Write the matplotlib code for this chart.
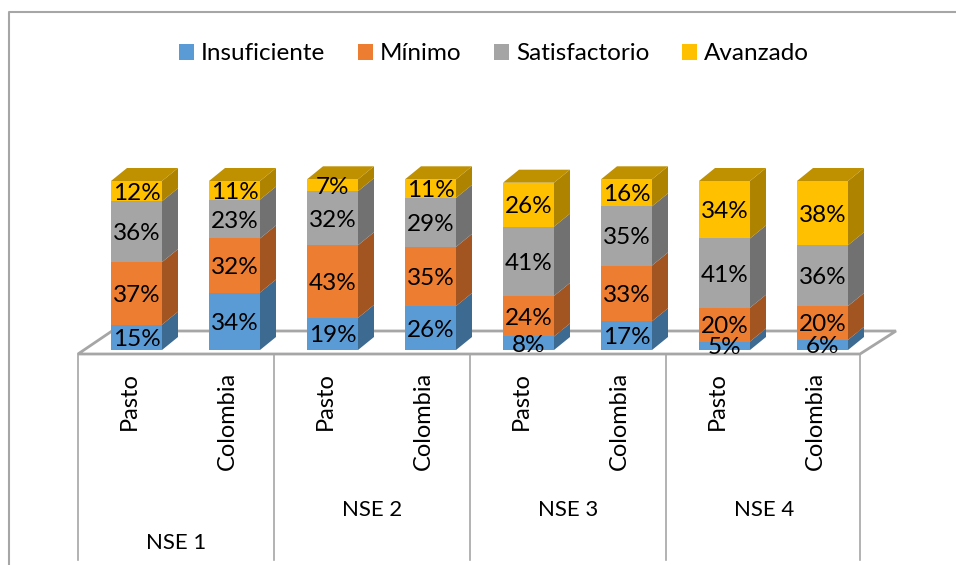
import numpy as np
import matplotlib
matplotlib.use("Agg")
import matplotlib.pyplot as plt
from matplotlib.patches import Patch, Polygon

plt.rcParams["font.family"] = ["Lato", "DejaVu Sans"]

groups = ["NSE 1", "NSE 2", "NSE 3", "NSE 4"]
places = ["Pasto", "Colombia"] * 4
series_names = ["Insuficiente", "Mínimo", "Satisfactorio", "Avanzado"]

insuficiente = [15, 34, 19, 26, 8, 17, 5, 6]
minimo = [37, 32, 43, 35, 24, 33, 20, 20]
satisfactorio = [36, 23, 32, 29, 41, 35, 41, 36]
avanzado = [12, 11, 7, 11, 26, 16, 34, 38]

front_colors = ["#5B9BD5", "#ED7D31", "#A5A5A5", "#FFC000"]
side_colors = ["#3C6A91", "#A25521", "#717171", "#AE8300"]
top_color = "#BF9000"
axis_color = "#A6A6A6"

# pixel scale of the picture: one category is 98 px, one percent 1.69 px
WIDTH, HEIGHT = 956, 565
X_SCALE = 98.0
Y_SCALE = 1.69
X0_PX, Y0_PX = 136.5, 350.0
BAR_WIDTH = 51 / X_SCALE
DEPTH_X = 16 / X_SCALE
DEPTH_Y = 13 / Y_SCALE


def px(x_px, y_px):
    return (x_px - X0_PX) / X_SCALE, (Y0_PX - y_px) / Y_SCALE


def draw_floor(axes):
    corners = [px(78, 354), px(860, 354), px(896, 331), px(112, 331)]
    axes.add_patch(Polygon(corners, closed=True, facecolor="white", edgecolor=axis_color, linewidth=2.0, zorder=1))


def draw_stack(axes, x, values, floor_bottom=0.0):
    bottom = floor_bottom
    right = x + BAR_WIDTH / 2
    left = x - BAR_WIDTH / 2
    for i, value in enumerate(values):
        top = bottom + value
        side = [
            (right, bottom),
            (right + DEPTH_X, bottom + DEPTH_Y),
            (right + DEPTH_X, top + DEPTH_Y),
            (right, top),
        ]
        axes.add_patch(Polygon(side, closed=True, facecolor=side_colors[i], edgecolor="none", zorder=2))
        axes.bar(x, value, BAR_WIDTH, bottom=bottom, color=front_colors[i], linewidth=0, zorder=3)
        axes.text(x, bottom + value / 2, f"{value}%", ha="center", va="center_baseline", fontsize=17.5, color="black", zorder=5)
        bottom = top
    lid = [
        (left, bottom),
        (right, bottom),
        (right + DEPTH_X, bottom + DEPTH_Y),
        (left + DEPTH_X, bottom + DEPTH_Y),
    ]
    axes.add_patch(Polygon(lid, closed=True, facecolor=top_color, edgecolor="none", zorder=2))


figure = plt.figure(figsize=(WIDTH / 100, HEIGHT / 100), dpi=100)
axes = figure.add_axes([0, 0, 1, 1])
x_left, y_bottom = px(0, HEIGHT)
x_right, y_top = px(WIDTH, 0)
axes.set_xlim(x_left, x_right)
axes.set_ylim(y_bottom, y_top)
axes.axis("off")

# outer chart frame, only left and top are visible in the crop
frame_x = [px(9, 0)[0], px(9, 0)[0], px(956, 0)[0]]
frame_y = [px(0, 565)[1], px(0, 12)[1], px(0, 12)[1]]
axes.plot(frame_x, frame_y, color=axis_color, linewidth=1.5, zorder=0)

draw_floor(axes)

stacks = np.array([insuficiente, minimo, satisfactorio, avanzado]).T
for position, values in enumerate(stacks):
    draw_stack(axes, position, values)

# two level category axis below the floor
for x_px in [78, 274, 470, 666, 860]:
    xs = [px(x_px, 0)[0]] * 2
    ys = [px(0, 354)[1], px(0, 560)[1]]
    axes.plot(xs, ys, color=axis_color, linewidth=1.2, zorder=1)

for position, place in enumerate(places):
    axes.text(position - 7 / X_SCALE, px(0, 372)[1], place, rotation=90, ha="center", va="top", fontsize=17)

group_y = [543, 510, 510, 510]
for i, group in enumerate(groups):
    axes.text(2 * i + 0.5 - 9 / X_SCALE, px(0, group_y[i])[1], group, ha="center", va="center", fontsize=16)

handles = [Patch(facecolor=color, edgecolor="none") for color in front_colors]
axes.legend(
    handles,
    series_names,
    loc="center",
    bbox_to_anchor=(494 / WIDTH, 1 - 54 / HEIGHT),
    ncol=4,
    frameon=False,
    fontsize=17.5,
    handlelength=0.62,
    handleheight=0.62,
    handletextpad=0.28,
    columnspacing=1.34,
)

figure.savefig("out.png", dpi=100)
plt.close(figure)
